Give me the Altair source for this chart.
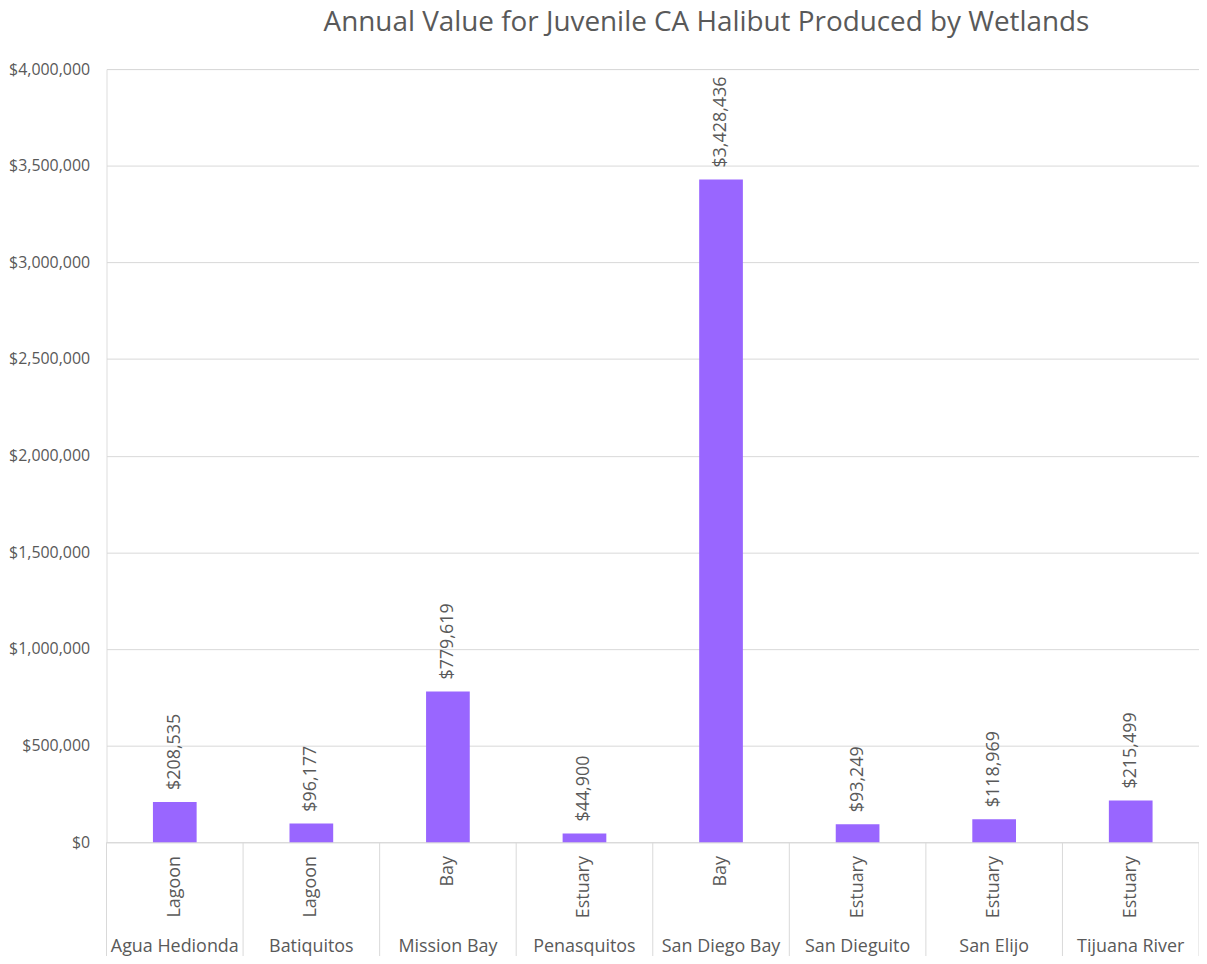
import altair as alt
import pandas as pd

names = ["Agua Hedionda", "Batiquitos", "Mission Bay", "Penasquitos",
         "San Diego Bay", "San Dieguito", "San Elijo", "Tijuana River"]
types = ["Lagoon", "Lagoon", "Bay", "Estuary", "Bay", "Estuary", "Estuary", "Estuary"]
values = [208535, 96177, 779619, 44900, 3428436, 93249, 118969, 215499]
y_ticks = [0, 500000, 1000000, 1500000, 2000000, 2500000, 3000000, 3500000, 4000000]

df = pd.DataFrame({"name": names, "type": types, "value": values})

FONT = "Open Sans"
GRAY = "#595959"
GRID = "#d9d9d9"
W, H = 1098, 777

x_enc = alt.X(
    "name:N", sort=names, title=None,
    scale=alt.Scale(paddingInner=0, paddingOuter=0),
    axis=alt.Axis(labelAngle=0, labelPadding=96, ticks=False, domain=True,
                  domainColor=GRID, labelFontSize=18, labelColor=GRAY,
                  labelFont=FONT, labelBaseline="top"),
)
y_enc = alt.Y(
    "value:Q", title=None,
    scale=alt.Scale(domain=[0, 4000000], nice=False),
    axis=alt.Axis(values=y_ticks, format="$,.0f", domain=False, ticks=False,
                  labelPadding=17, labelFontSize=16, labelColor=GRAY,
                  labelFont=FONT, gridColor=GRID),
)

base = alt.Chart(df)

bars = base.mark_bar(color="#9966FF", width={"band": 0.32}).encode(x=x_enc, y=y_enc)

value_labels = base.mark_text(
    angle=270, align="left", baseline="middle", dx=12,
    fontSize=18, color=GRAY, font=FONT,
).encode(x=alt.X("name:N", sort=names), y=alt.Y("value:Q"),
         text=alt.Text("value:Q", format="$,.0f"))

type_labels = base.mark_text(
    angle=270, align="right", baseline="middle",
    fontSize=18, color=GRAY, font=FONT,
).encode(x=alt.X("name:N", sort=names), y=alt.value(H + 14), text="type:N")

separators = base.mark_rule(color=GRID, strokeWidth=1).encode(
    x=alt.X("name:N", sort=names, bandPosition=0),
    y=alt.value(H), y2=alt.value(H + 140),
)

last_sep = base.transform_filter(
    alt.datum.name == names[-1]
).mark_rule(color=GRID, strokeWidth=1).encode(
    x=alt.X("name:N", sort=names, bandPosition=1),
    y=alt.value(H), y2=alt.value(H + 140),
)

chart = alt.layer(bars, value_labels, type_labels, separators, last_sep).properties(
    width=W, height=H,
    title=alt.Title("Annual Value for Juvenile CA Halibut Produced by Wetlands",
                    fontSize=28, color=GRAY, font=FONT, fontWeight="normal",
                    anchor="middle", frame="group", baseline="alphabetic",
                    offset=2, dx=54),
    autosize=alt.AutoSizeParams(type="none"),
    padding={"left": 99, "top": 59, "right": 0, "bottom": 112},
).configure_view(stroke=None).configure(background="white")

chart.save("out.html", embed_options={"renderer": "svg", "actions": False})
